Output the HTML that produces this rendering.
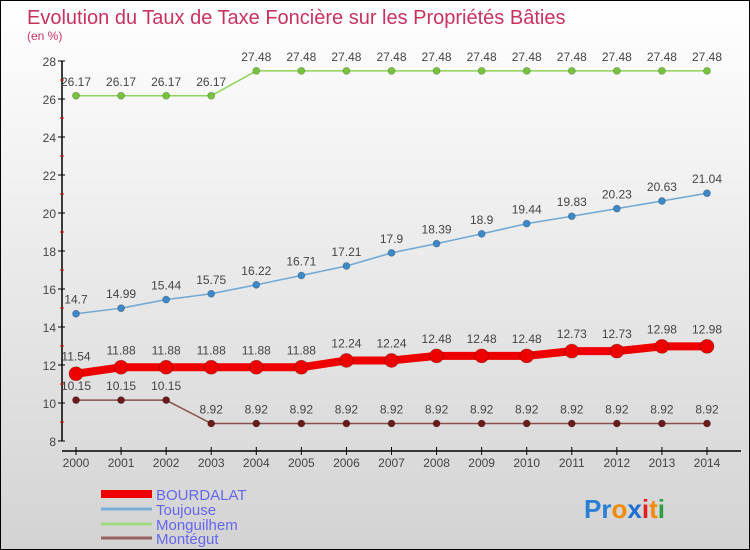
<!DOCTYPE html>
<html><head><meta charset="utf-8"><style>
body{margin:0;}
#c{width:750px;height:550px;position:relative;background:linear-gradient(#ffffff,#d3d3d3);box-sizing:border-box;border:1px solid #000;overflow:hidden;font-family:"Liberation Sans",sans-serif;}
svg{position:absolute;left:0;top:0}
</style></head><body>
<div id="c">
<svg id="s" width="750" height="550">
<text x="26" y="23" font-size="20" fill="#c8335e">Evolution du Taux de Taxe Foncière sur les Propriétés Bâties</text>
<text x="26" y="39" font-size="12" fill="#c8335e">(en %)</text>
</svg>
</div>
<script>
const years=[2000,2001,2002,2003,2004,2005,2006,2007,2008,2009,2010,2011,2012,2013,2014];
const bourdalat=[11.54,11.88,11.88,11.88,11.88,11.88,12.24,12.24,12.48,12.48,12.48,12.73,12.73,12.98,12.98];
const toujouse=[14.7,14.99,15.44,15.75,16.22,16.71,17.21,17.9,18.39,18.9,19.44,19.83,20.23,20.63,21.04];
const monguilhem=[26.17,26.17,26.17,26.17,27.48,27.48,27.48,27.48,27.48,27.48,27.48,27.48,27.48,27.48,27.48];
const montegut=[10.15,10.15,10.15,8.92,8.92,8.92,8.92,8.92,8.92,8.92,8.92,8.92,8.92,8.92,8.92];
const yTicks=[8,10,12,14,16,18,20,22,24,26,28];
const seriesNames=["BOURDALAT","Toujouse","Monguilhem","Montégut"];
const NS="http://www.w3.org/2000/svg",s=document.getElementById('s');
const X=i=>75+i*(706-75)/(years.length-1), Y=v=>440-(v-8)*19;
function el(t,a,p){const e=document.createElementNS(NS,t);for(const k in a)e.setAttribute(k,a[k]);(p||s).appendChild(e);return e;}
let ax=el('line',{x1:61,y1:Y(28),x2:61,y2:Y(8),stroke:'#000','stroke-width':1.5});


let bx=el('line',{x1:61,y1:450,x2:740,y2:450,stroke:'#000','stroke-width':1.5});


yTicks.forEach(v=>{
 el('line',{x1:57,y1:Y(v),x2:64,y2:Y(v),stroke:'#000'});
 if(v<28) el('line',{x1:59,y1:Y(v+1),x2:63,y2:Y(v+1),stroke:'#e00'});
 const t=el('text',{x:55,y:Y(v)+5,'text-anchor':'end','font-size':12,fill:'#444'});t.textContent=v;
 
 
});
years.forEach((yr,i)=>{
 el('line',{x1:X(i),y1:446,x2:X(i),y2:454,stroke:'#000'});
 const t=el('text',{x:X(i),y:466,'text-anchor':'middle','font-size':12,fill:'#444'});t.textContent=yr;
 
 
});
function series(d,col,w,r,dot,name){
 const g=el('g',{});
 
 
 el('polyline',{points:d.map((v,i)=>X(i)+','+Y(v)).join(' '),fill:'none',stroke:col,'stroke-width':w,'stroke-linejoin':'round'},g);
 d.forEach((v,i)=>{
  const c=el('circle',{cx:X(i),cy:Y(v),r:r,fill:dot,stroke:'rgba(0,0,0,0.25)','stroke-width':0.8},g);
  
  
  const t=el('text',{x:X(i),y:Y(v)-10-(r>4?3:0),'text-anchor':'middle','font-size':12,fill:'#444'},g);t.textContent=v;
 });
}
series(monguilhem,'#8fd45a',1.5,3.5,'#77c43c','series-monguilhem');
series(toujouse,'#6fa8d4',1.5,3.5,'#3c88c8','series-toujouse');
series(montegut,'#8b4f4f',1.5,3.5,'#6b1a1a','series-montegut');
series(bourdalat,'#ee0000',8,7,'#ee0000','series-bourdalat');
const lc=['#ee0000','#7ab0d8','#9ed880','#9a6464'],lw=[8,3,3,3],ly=[493,508,523,537];
seriesNames.forEach((n,i)=>{
 const g=el('g',{});
 
 
 el('line',{x1:100,y1:ly[i],x2:151,y2:ly[i],stroke:lc[i],'stroke-width':lw[i]},g);
 const t=el('text',{x:155,y:ly[i]+6,'font-size':15,fill:'#6666ee'},g);t.textContent=n;
});
const lg=el('text',{x:583,y:517,'font-size':26,'font-weight':'bold'});


[['P','#2a7fd4'],['r','#2a7fd4'],['o','#f08a00'],['x','#1a6fd0'],['i','#e02020'],['t','#f08a00'],['i','#2aa040']].forEach(([c,f])=>{const sp=el('tspan',{fill:f},lg);sp.textContent=c;});
</script>
</body></html>
